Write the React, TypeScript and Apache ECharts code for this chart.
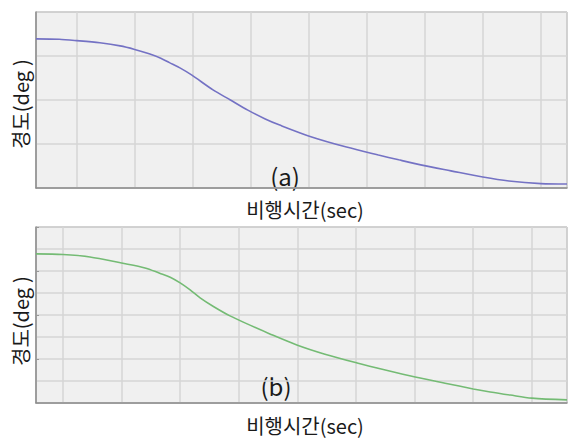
import React, { useEffect, useRef } from "react";
import * as echarts from "echarts";

// Panel (a): flight time (sec) vs longitude (deg)
const timeA = [30, 70, 100, 140, 175, 200, 225, 245, 260, 278, 298, 335, 365, 395, 425, 450, 505, 565, 620, 655, 695, 745, 800, 845, 900, 945];
const lonA = [3.39, 3.38, 3.35, 3.30, 3.23, 3.15, 3.05, 2.95, 2.85, 2.73, 2.57, 2.23, 2.0, 1.77, 1.57, 1.43, 1.16, 0.93, 0.75, 0.64, 0.52, 0.39, 0.25, 0.16, 0.10, 0.09];

// Panel (b)
const timeB = [54, 100, 146, 200, 240, 265, 283, 300, 317, 334, 356, 385, 419, 453, 499, 547, 602, 650, 701, 752, 800, 829, 863, 900, 960];
const lonB = [3.39, 3.375, 3.32, 3.18, 3.07, 2.95, 2.86, 2.73, 2.57, 2.39, 2.2, 1.98, 1.77, 1.57, 1.32, 1.11, 0.91, 0.75, 0.59, 0.45, 0.32, 0.25, 0.18, 0.11, 0.07];

const xRangeA = [30, 945];
const xRangeB = [54, 960];
const yRange = [0, 4];

const yLabelHead = "경도(deg";
const yLabelTail = ")";
const xLabel = "비행시간(sec)";
const panelTags = ["(a)", "(b)"];

const FONT = '"Noto Sans CJK KR", "Noto Sans", sans-serif';

export default function App() {
  const ref = useRef<HTMLDivElement>(null);
  useEffect(() => {
    if (!ref.current) return;
    const chart = echarts.init(ref.current, null, { renderer: "svg" });
    const gridStyle = {
      show: true,
      backgroundColor: "#f0f0f0",
      borderColor: "#8c8c8c",
      borderWidth: 1,
      outerBoundsMode: "none",
      containLabel: false,
    };
    const splitLine = { show: true, lineStyle: { color: "#d6d6d6", width: 1.5 } };
    const xAxisBase = (gi: number, range: number[]) => ({
      type: "value",
      gridIndex: gi,
      min: range[0],
      max: range[1],
      minInterval: 100,
      maxInterval: 100,
      splitNumber: 9,
      axisLine: { show: true, lineStyle: { color: "#8c8c8c", width: 1.5 } },
      axisTick: { show: false },
      axisLabel: { show: false },
      splitLine,
    });
    // rotated y-axis title, drawn bottom-to-top from its bottom end
    const yLabelTexts = (bottom: number, size: number) => [
      {
        type: "text",
        x: 20,
        y: bottom,
        rotation: Math.PI / 2,
        style: { text: yLabelHead, font: `${size}px ${FONT}`, fill: "#1a1a1a", align: "left", verticalAlign: "middle" },
      },
      {
        type: "text",
        x: 20,
        y: bottom - 83,
        rotation: Math.PI / 2,
        style: { text: yLabelTail, font: `${size}px ${FONT}`, fill: "#1a1a1a", align: "left", verticalAlign: "middle" },
      },
    ];
    chart.setOption({
      animation: false,
      grid: [
        { left: 36, top: 12, width: 531, height: 176, ...gridStyle },
        { left: 36, top: 227, width: 531, height: 176, ...gridStyle },
      ],
      xAxis: [xAxisBase(0, xRangeA), xAxisBase(1, xRangeB)],
      yAxis: [
        {
          type: "value",
          gridIndex: 0,
          min: yRange[0],
          max: yRange[1],
          interval: 1,
          axisLine: { show: true, lineStyle: { color: "#8c8c8c", width: 1.5 } },
          axisTick: { show: false },
          axisLabel: { show: false },
          splitLine,
        },
        {
          type: "value",
          gridIndex: 1,
          min: yRange[0],
          max: yRange[1],
          interval: 1,
          axisLine: { show: true, lineStyle: { color: "#8c8c8c", width: 1.5 } },
          axisTick: { show: true, length: 3, inside: true, lineStyle: { color: "#999" } },
          axisLabel: { show: false },
          splitLine,
          minorTick: { show: false, splitNumber: 2 },
          minorSplitLine: { show: true, lineStyle: { color: "#d6d6d6", width: 1.5 } },
        },
      ],
      series: [
        {
          type: "line",
          xAxisIndex: 0,
          yAxisIndex: 0,
          data: timeA.map((t, i) => [t, lonA[i]]),
          smooth: 0.3,
          showSymbol: false,
          lineStyle: { color: "#7472c4", width: 1.6 },
        },
        {
          type: "line",
          xAxisIndex: 1,
          yAxisIndex: 1,
          data: timeB.map((t, i) => [t, lonB[i]]),
          smooth: 0.3,
          showSymbol: false,
          lineStyle: { color: "#74bb74", width: 1.6 },
        },
      ],
      graphic: [
        ...yLabelTexts(149, 20),
        ...yLabelTexts(366, 20),
        {
          type: "text",
          x: 285,
          y: 175,
          style: { text: panelTags[0], font: `24px ${FONT}`, fill: "#1a1a1a", align: "center", verticalAlign: "middle" },
        },
        {
          type: "text",
          x: 276,
          y: 385,
          style: { text: panelTags[1], font: `24px ${FONT}`, fill: "#1a1a1a", align: "center", verticalAlign: "middle" },
        },
        {
          type: "text",
          x: 305,
          y: 209,
          style: { text: xLabel, font: `20px ${FONT}`, fill: "#1a1a1a", align: "center", verticalAlign: "middle" },
        },
        {
          type: "text",
          x: 305,
          y: 425,
          style: { text: xLabel, font: `20px ${FONT}`, fill: "#1a1a1a", align: "center", verticalAlign: "middle" },
        },
      ],
    });
    return () => chart.dispose();
  }, []);
  return (
    <div
      ref={ref}
      style={{ position: "fixed", left: 0, top: 0, width: 569, height: 439, background: "#ffffff" }}
    />
  );
}
